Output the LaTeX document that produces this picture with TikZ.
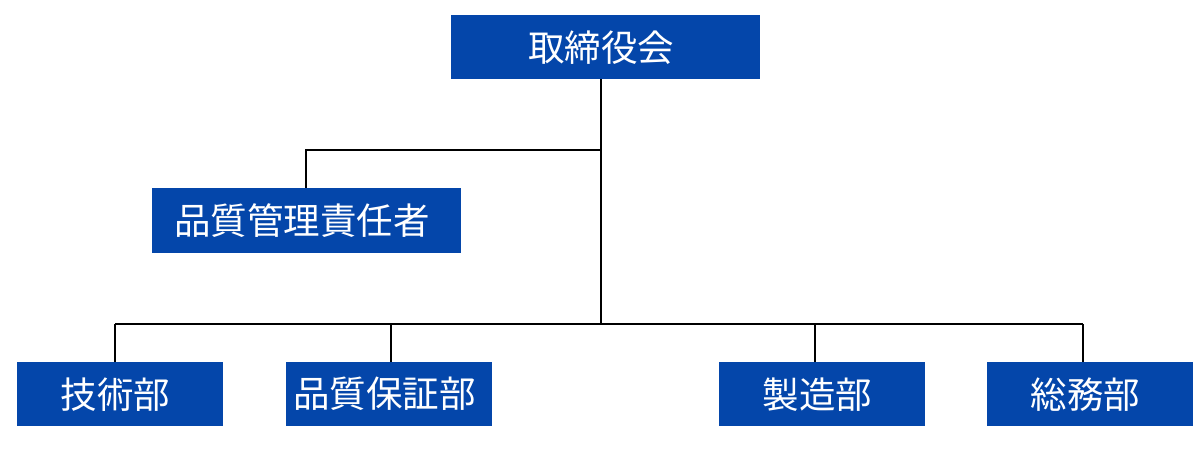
\documentclass[tikz,border=0pt]{standalone}
\usepackage{fontspec}
\newfontfamily\cjk{Noto Sans CJK JP}
\definecolor{boxblue}{RGB}{4,70,170}
\newcommand{\padr}{\kern9pt}
\begin{document}
\begin{tikzpicture}[x=1pt,y=-1pt,
  unit/.style={fill=boxblue,text=white,inner sep=0pt,font=\cjk\fontsize{36.5}{40}\selectfont,anchor=north west},
  conn/.style={draw=black,line width=1.1pt}]
\useasboundingbox[fill=white] (0,0) rectangle (1200,456);
\node[unit,minimum width=309,minimum height=64] (top) at (451,15) {取締役会\padr};
\node[unit,minimum width=309,minimum height=65] (qm) at (152,188) {品質管理責任者\padr};
\node[unit,minimum width=206,minimum height=64] (d1) at (17,362) {技術部\padr};
\node[unit,minimum width=206,minimum height=64] (d2) at (286,362) {品質保証部\padr};
\node[unit,minimum width=206,minimum height=64] (d3) at (719,362) {製造部\padr};
\node[unit,minimum width=206,minimum height=64] (d4) at (987,362) {総務部\padr};
\coordinate (j1) at (601,150);
\coordinate (j2) at (601,324);
\coordinate (q) at (306,150);
\coordinate (c1) at (115,324);
\coordinate (c2) at (391,324);
\coordinate (c3) at (815,324);
\coordinate (c4) at (1083,324);
\draw[conn] (top.south -| j1) -- (j2);
\draw[conn] (j1) -- (q) -- (q |- qm.north);
\draw[conn] (c1) -- (c4);
\draw[conn] (c1) -- (c1 |- d1.north);
\draw[conn] (c2) -- (c2 |- d2.north);
\draw[conn] (c3) -- (c3 |- d3.north);
\draw[conn] (c4) -- (c4 |- d4.north);
\end{tikzpicture}
\end{document}
